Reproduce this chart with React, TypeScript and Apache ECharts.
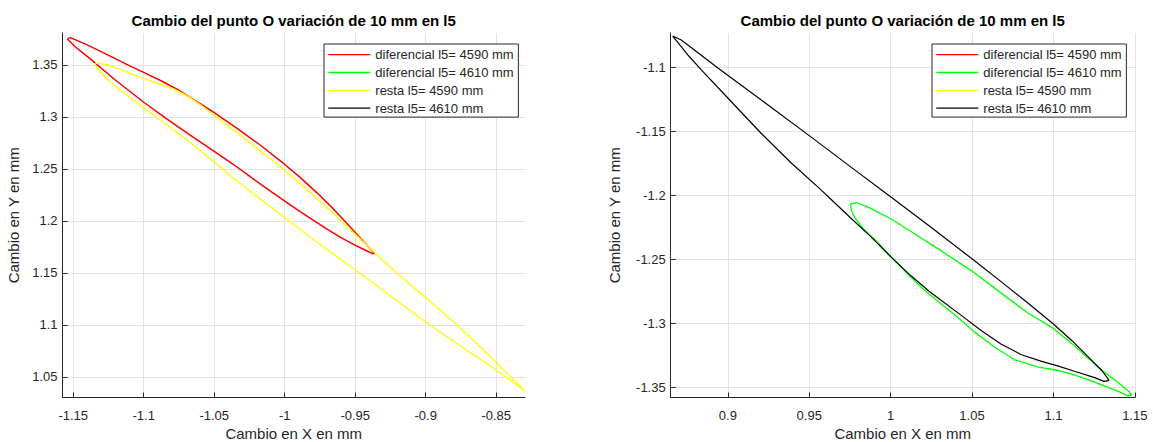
import React, { useEffect, useRef } from "react";
import * as echarts from "echarts";

const FONT = "'Liberation Sans', Arial, Helvetica, sans-serif";

const titleText = "Cambio del punto O variación de 10 mm en l5";
const xAxisTitle = "Cambio en X en mm";
const yAxisTitle = "Cambio en Y en mm";

const seriesNames = [
  "diferencial l5= 4590 mm",
  "diferencial l5= 4610 mm",
  "resta l5= 4590 mm",
  "resta l5= 4610 mm",
];
const seriesColors = ["#ff0000", "#00ff00", "#ffff00", "#000000"];

// Left chart extents
const leftX = [-1.1576, -0.8296];
const leftY = [1.0301, 1.3807];
// Right chart extents
const rightX = [0.8649, 1.15];
const rightY = [-1.3579, -1.073];

// diferencial l5 = 4590 mm (red, left)
const redLoop: number[][] = [
  [-1.1542, 1.375], [-1.1519, 1.3763], [-1.139, 1.3686], [-1.1248, 1.3592],
  [-1.1106, 1.3496], [-1.1, 1.3428], [-1.087, 1.3343], [-1.0761, 1.3265],
  [-1.0631, 1.3155], [-1.05, 1.304], [-1.0328, 1.288], [-1.017, 1.2725],
  [-1.0002, 1.2545], [-0.9891, 1.2418], [-0.9773, 1.2272], [-0.9655, 1.2115],
  [-0.955, 1.1962], [-0.9448, 1.1812], [-0.9389, 1.1725], [-0.9365, 1.1692],
  [-0.9373, 1.1682], [-0.9424, 1.1715], [-0.9519, 1.1779], [-0.9613, 1.1848],
  [-0.97, 1.192], [-0.9773, 1.1985], [-0.9891, 1.209], [-1.0002, 1.2192],
  [-1.0127, 1.231], [-1.0245, 1.2425], [-1.0363, 1.2542], [-1.05, 1.2668],
  [-1.0681, 1.2835], [-1.0847, 1.299], [-1.1, 1.3141], [-1.1201, 1.3355],
  [-1.139, 1.357], [-1.1484, 1.3672], [-1.1542, 1.375],
];

// resta l5 = 4590 mm (yellow, left)
const yellowLoop: number[][] = [
  [-1.1347, 1.351], [-1.1319, 1.3519], [-1.1248, 1.3497], [-1.1153, 1.345],
  [-1.1, 1.3368], [-1.0847, 1.3298], [-1.0765, 1.3252], [-1.0681, 1.3195],
  [-1.06, 1.312], [-1.05, 1.3015], [-1.0387, 1.2899], [-1.0245, 1.2751],
  [-1.012, 1.2617], [-1.0002, 1.2487], [-0.9891, 1.236], [-0.9773, 1.2218],
  [-0.9655, 1.207], [-0.9537, 1.192], [-0.9455, 1.1814], [-0.9373, 1.1707],
  [-0.9188, 1.1479], [-0.9002, 1.1262], [-0.8834, 1.1065], [-0.867, 1.0862],
  [-0.8505, 1.0645], [-0.841, 1.0516], [-0.8339, 1.0419], [-0.8308, 1.0375],
  [-0.8297, 1.0352], [-0.8318, 1.0385], [-0.8387, 1.0455], [-0.85, 1.0565],
  [-0.8623, 1.0678], [-0.8764, 1.0806], [-0.8906, 1.0938], [-0.9002, 1.103],
  [-0.9155, 1.1183], [-0.9306, 1.1335], [-0.95, 1.153], [-0.9655, 1.168],
  [-0.9773, 1.1796], [-0.9891, 1.1916], [-1.0002, 1.2032], [-1.0221, 1.226],
  [-1.0363, 1.241], [-1.05, 1.2565], [-1.0681, 1.2765], [-1.0847, 1.2935],
  [-1.1, 1.3085], [-1.1153, 1.3245], [-1.125, 1.335], [-1.1295, 1.341],
  [-1.133, 1.3468], [-1.1347, 1.351],
];

// diferencial l5 = 4610 mm (green, right)
const greenLoop: number[][] = [
  [0.9754, -1.2065], [0.9792, -1.2055], [0.9875, -1.2099], [1.0, -1.2182],
  [1.0146, -1.2299], [1.0292, -1.2417], [1.05, -1.2591], [1.0645, -1.273],
  [1.0845, -1.2921], [1.1, -1.3039], [1.1114, -1.3158], [1.1217, -1.3276],
  [1.13, -1.3368], [1.1382, -1.3447], [1.1465, -1.3534], [1.1481, -1.3561],
  [1.1455, -1.3566], [1.1424, -1.3545], [1.132, -1.3492], [1.1217, -1.3442],
  [1.1114, -1.3397], [1.1031, -1.3368], [1.0907, -1.3342], [1.0762, -1.3284],
  [1.0638, -1.3184], [1.0514, -1.3066], [1.0432, -1.2974], [1.0198, -1.2729],
  [1.0104, -1.2612], [1.0, -1.2475], [0.9917, -1.2362], [0.9833, -1.2262],
  [0.9781, -1.2175], [0.9758, -1.2115], [0.9754, -1.2065],
];

// resta l5 = 4610 mm (black, right)
const blackLoop: number[][] = [
  [0.8661, -1.0754], [0.8714, -1.0785], [0.8939, -1.1003], [0.9245, -1.129],
  [0.95, -1.1532], [0.9771, -1.1792], [1.0, -1.201], [1.025, -1.225],
  [1.05, -1.2495], [1.07, -1.2695], [1.0845, -1.2843], [1.1, -1.3005],
  [1.1114, -1.3135], [1.1217, -1.3265], [1.13, -1.3372], [1.1331, -1.3425],
  [1.1341, -1.3447], [1.131, -1.3453], [1.1258, -1.3426], [1.1134, -1.3376],
  [1.1031, -1.3334], [1.0928, -1.3297], [1.0804, -1.3245], [1.068, -1.3163],
  [1.0556, -1.3055], [1.0432, -1.2935], [1.024, -1.2752], [1.0125, -1.2628],
  [1.0, -1.2478], [0.9875, -1.2318], [0.975, -1.217], [0.9625, -1.202],
  [0.9576, -1.196], [0.9388, -1.1744], [0.9194, -1.15], [0.9, -1.1238],
  [0.8837, -1.1018], [0.8755, -1.0902], [0.8694, -1.0806], [0.8661, -1.0754],
];

const AXIS_COLOR = "#262626";
const GRID_COLOR = "#e3e3e3";

const fmt = (v: number) => String(Math.round(v * 10000) / 10000);

function makeXAxis(idx: number, ext: number[], showMax: boolean) {
  return {
    type: "value",
    gridIndex: idx,
    min: ext[0],
    max: ext[1],
    splitNumber: 7,
    position: "bottom",
    name: xAxisTitle,
    nameLocation: "middle",
    nameGap: 29,
    nameTextStyle: { fontSize: 15, lineHeight: 13, color: AXIS_COLOR, fontFamily: FONT },
    axisLine: { onZero: false, lineStyle: { color: AXIS_COLOR, width: 1 } },
    axisTick: { inside: true, length: 5, lineStyle: { color: AXIS_COLOR } },
    axisLabel: {
      margin: 11,
      fontSize: 13,
      color: AXIS_COLOR,
      fontFamily: FONT,
      showMinLabel: false,
      showMaxLabel: showMax,
      formatter: fmt,
    },
    splitLine: {
      show: true,
      showMinLine: false,
      showMaxLine: showMax,
      lineStyle: { color: GRID_COLOR, width: 1 },
    },
  };
}

function makeYAxis(idx: number, ext: number[], gap: number) {
  return {
    type: "value",
    gridIndex: idx,
    min: ext[0],
    max: ext[1],
    splitNumber: 7,
    position: "left",
    name: yAxisTitle,
    nameLocation: "middle",
    nameGap: gap,
    nameTextStyle: { fontSize: 15, color: AXIS_COLOR, fontFamily: FONT },
    axisLine: { onZero: false, lineStyle: { color: AXIS_COLOR, width: 1 } },
    axisTick: { inside: true, length: 5, lineStyle: { color: AXIS_COLOR } },
    axisLabel: {
      margin: 5,
      fontSize: 13,
      color: AXIS_COLOR,
      fontFamily: FONT,
      showMinLabel: false,
      showMaxLabel: false,
      formatter: fmt,
    },
    splitLine: {
      show: true,
      showMinLine: false,
      showMaxLine: false,
      lineStyle: { color: GRID_COLOR, width: 1 },
    },
  };
}

function makeLegend(left: number) {
  return {
    show: true,
    orient: "vertical",
    left,
    top: 44,
    data: seriesNames,
    selectedMode: false,
    padding: [3.7, 4.7, 2, 4.3],
    itemWidth: 42,
    itemHeight: 14,
    itemGap: 3.8,
    icon: "path://M0,0H42V1.3H0Z",
    itemStyle: { borderWidth: 0 },
    borderColor: AXIS_COLOR,
    borderWidth: 1,
    backgroundColor: "#ffffff",
    textStyle: { fontSize: 13, color: AXIS_COLOR, fontFamily: FONT, lineHeight: 14 },
  };
}

function lineSeries(name: string, color: string, data: number[][], idx: number, width: number) {
  return {
    type: "line",
    name,
    xAxisIndex: idx,
    yAxisIndex: idx,
    data,
    symbol: "none",
    showSymbol: false,
    smooth: false,
    color,
    lineStyle: { color, width },
    itemStyle: { color },
    z: 3,
  };
}

export default function App() {
  const ref = useRef<HTMLDivElement>(null);
  useEffect(() => {
    if (!ref.current) return;
    const chart = echarts.init(ref.current, undefined, { renderer: "svg" });
    const option: any = {
      animation: false,
      backgroundColor: "#ffffff",
      title: [
        {
          text: titleText,
          left: 293.7,
          top: 13,
          textAlign: "center",
          padding: 0,
          textStyle: { fontSize: 15, fontWeight: "bold", color: "#000", fontFamily: FONT },
        },
        {
          text: titleText,
          left: 902.7,
          top: 13,
          textAlign: "center",
          padding: 0,
          textStyle: { fontSize: 15, fontWeight: "bold", color: "#000", fontFamily: FONT },
        },
      ],
      grid: [
        { left: 62.5, top: 33, width: 462.5, height: 364.5, containLabel: false, outerBoundsMode: "none" },
        { left: 670.7, top: 33, width: 464.1, height: 364.5, containLabel: false, outerBoundsMode: "none" },
      ],
      xAxis: [makeXAxis(0, leftX, false), makeXAxis(1, rightX, true)],
      yAxis: [makeYAxis(0, leftY, 41.5), makeYAxis(1, rightY, 48.5)],
      legend: [makeLegend(324), makeLegend(932)],
      series: [
        lineSeries(seriesNames[0], seriesColors[0], redLoop, 0, 1.5),
        lineSeries(seriesNames[2], seriesColors[2], yellowLoop, 0, 1.3),
        lineSeries(seriesNames[1], seriesColors[1], greenLoop, 1, 1.3),
        lineSeries(seriesNames[3], seriesColors[3], blackLoop, 1, 1.2),
      ],
    };
    chart.setOption(option);
    return () => chart.dispose();
  }, []);
  return (
    <div
      ref={ref}
      style={{ position: "absolute", left: 0, top: 0, width: 1153, height: 442, background: "#fff" }}
    />
  );
}
